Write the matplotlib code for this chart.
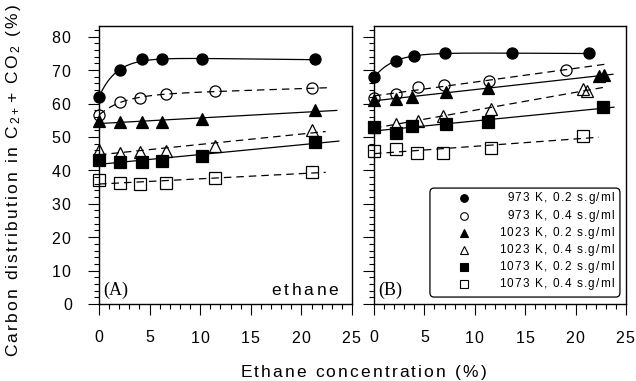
import numpy as np
import matplotlib.pyplot as plt
from matplotlib.patches import FancyBboxPatch
from matplotlib.ticker import MultipleLocator, FuncFormatter

plt.rcParams['font.family'] = ['Liberation Sans', 'DejaVu Sans']
plt.rcParams['mathtext.fontset'] = 'custom'
plt.rcParams['mathtext.rm'] = 'Liberation Sans'
plt.rcParams['mathtext.it'] = 'Liberation Sans:italic'
plt.rcParams['mathtext.default'] = 'regular'

LABELS = ['973 K, 0.2 s.g/ml', '973 K, 0.4 s.g/ml',
          '1023 K, 0.2 s.g/ml', '1023 K, 0.4 s.g/ml',
          '1073 K, 0.2 s.g/ml', '1073 K, 0.4 s.g/ml']

# (A) ethane concentration (%) / carbon distribution (%)
a_973_02_x = [0, 2.1, 4.2, 6.2, 10.2, 21.3]
a_973_02_y = [62.0, 70.0, 73.2, 73.2, 73.2, 73.2]
a_973_04_x = [0, 2.1, 4.1, 6.6, 11.5, 21.0]
a_973_04_y = [56.5, 60.5, 61.7, 62.7, 63.8, 64.5]
a_1023_02_x = [0, 2.1, 4.2, 6.2, 10.2, 21.3]
a_1023_02_y = [54.8, 54.5, 54.4, 54.4, 55.3, 58.0]
a_1023_04_x = [0, 2.1, 4.1, 6.6, 11.5, 21.0]
a_1023_04_y = [46.1, 45.1, 45.6, 45.8, 47.4, 52.0]
a_1073_02_x = [0, 2.1, 4.2, 6.2, 10.2, 21.3]
a_1073_02_y = [43.1, 42.4, 42.4, 42.8, 44.4, 48.6]
a_1073_04_x = [0, 2.1, 4.1, 6.6, 11.5, 21.0]
a_1073_04_y = [37.1, 36.1, 35.8, 36.3, 37.6, 39.6]

# (B)
b_973_02_x = [0, 2.2, 4.0, 7.0, 13.7, 21.3]
b_973_02_y = [67.8, 72.8, 74.3, 75.0, 75.0, 75.0]
b_973_04_x = [0, 2.2, 4.4, 6.9, 11.4, 19.0]
b_973_04_y = [61.8, 62.8, 65.0, 65.5, 66.7, 70.0]
b_1023_02_x = [0, 2.2, 3.8, 7.1, 11.3, 22.3, 22.8]
b_1023_02_y = [61.0, 61.3, 62.0, 63.3, 64.7, 68.2, 68.5]
b_1023_04_x = [0, 2.2, 4.4, 6.8, 11.6, 20.7, 21.1]
b_1023_04_y = [53.0, 53.8, 54.8, 56.3, 58.3, 64.2, 63.8]
b_1073_02_x = [0, 2.2, 3.8, 7.1, 11.3, 22.7]
b_1073_02_y = [53.0, 51.2, 53.3, 53.8, 54.5, 59.0]
b_1073_04_x = [0, 2.2, 4.3, 6.8, 11.6, 20.7]
b_1073_04_y = [45.8, 46.4, 45.3, 45.3, 46.8, 50.4]

panel_a = [(a_973_02_x, a_973_02_y), (a_973_04_x, a_973_04_y),
           (a_1023_02_x, a_1023_02_y), (a_1023_04_x, a_1023_04_y),
           (a_1073_02_x, a_1073_02_y), (a_1073_04_x, a_1073_04_y)]
panel_b = [(b_973_02_x, b_973_02_y), (b_973_04_x, b_973_04_y),
           (b_1023_02_x, b_1023_02_y), (b_1023_04_x, b_1023_04_y),
           (b_1073_02_x, b_1073_02_y), (b_1073_04_x, b_1073_04_y)]

# fit type and how far each fitted line is drawn
fit_a = [('sat', 21.3), ('sat', 23.0), ('lin', 23.5), ('lin', 22.4), ('lin', 23.7), ('lin', 22.4)]
fit_b = [('sat', 21.3), ('lin', 23.2), ('lin', 23.7), ('lin', 23.2), ('lin', 23.8), ('lin', 22.3)]

MARKERS = ['o', 'o', '^', '^', 's', 's']
FILLED = [True, False, True, False, True, False]
MSIZE = [8, 8, 8.5, 8.5, 8, 8]


def spaced(s, gap=0.15):
    """Loosen letter spacing with mathtext kerns; $...$ parts kept as math."""
    k = r'\hspace{%.2f}' % gap
    parts = s.split('$')
    out = ''
    for i, p in enumerate(parts):
        if i % 2:
            out += '$' + p + k + '$'
        else:
            out += ('$' + k + '$').join(p)
            if i < len(parts) - 1 and p:
                out += '$' + k + '$'
    return out


def fit_curve(x, y, kind, x_end):
    x = np.asarray(x, float)
    y = np.asarray(y, float)
    xs = np.linspace(0, x_end, 300)
    if kind == 'lin':
        p = np.polyfit(x, y, 1)
        return xs, np.polyval(p, xs)
    # saturating: a + b*x + c*exp(-x/tau)
    best = None
    for tau in np.linspace(0.3, 8, 400):
        A = np.column_stack([np.ones_like(x), x, np.exp(-x / tau)])
        coef = np.linalg.lstsq(A, y, rcond=None)[0]
        err = np.sum((A @ coef - y) ** 2)
        if best is None or err < best[0]:
            best = (err, tau, coef)
    _, tau, coef = best
    return xs, coef[0] + coef[1] * xs + coef[2] * np.exp(-xs / tau)


def draw_panel(ax, series, fits, tag):
    for i, ((x, y), (kind, x_end)) in enumerate(zip(series, fits)):
        xs, ys = fit_curve(x, y, kind, x_end)
        ls = '-' if FILLED[i] else (0, (6, 4))
        ax.plot(xs, ys, color='black', lw=0.9, linestyle=ls, zorder=2)
        ax.plot(x, y, linestyle='none', marker=MARKERS[i], ms=MSIZE[i],
                mfc='black' if FILLED[i] else 'none', mec='black', mew=0.9,
                zorder=3, clip_on=False)
    ax.set_xlim(0, 25)
    ax.set_ylim(0, 83.2)
    ax.xaxis.set_major_locator(MultipleLocator(5))
    ax.xaxis.set_minor_locator(MultipleLocator(1))
    ax.yaxis.set_major_locator(MultipleLocator(10))
    ax.yaxis.set_minor_locator(MultipleLocator(2))
    ax.tick_params(which='both', direction='out', top=False, right=False,
                   width=0.8, labelsize=11.5, pad=11)
    ax.tick_params(which='major', length=8)
    ax.tick_params(which='minor', length=3.5)
    ax.xaxis.set_major_formatter(FuncFormatter(lambda v, p: spaced('%d' % v)))
    ax.yaxis.set_major_formatter(FuncFormatter(lambda v, p: spaced('%d' % v)))
    for sp in ax.spines.values():
        sp.set_linewidth(1.0)
    ax.text(0.015, 0.033, tag, transform=ax.transAxes, family='Liberation Serif',
            fontsize=13, va='baseline', ha='left')


fig = plt.figure(figsize=(6.36, 3.81), dpi=100)
ax_a = fig.add_axes([99 / 636, 77 / 381, 253 / 636, 278 / 381])
ax_b = fig.add_axes([374 / 636, 77 / 381, 252 / 636, 278 / 381])

draw_panel(ax_a, panel_a, fit_a, '(A)')
draw_panel(ax_b, panel_b, fit_b, '(B)')
ax_b.tick_params(axis='y', labelleft=False)

ax_a.text(0.953, 0.033, spaced('ethane', 0.2), transform=ax_a.transAxes,
          fontsize=12.5, ha='right', va='baseline')

# legend box inside panel B
box = FancyBboxPatch((0.222, 0.025), 0.754, 0.392,
                     boxstyle='round,pad=0,rounding_size=0.016',
                     transform=ax_b.transAxes, fc='white', ec='black', lw=0.9,
                     zorder=4)
ax_b.add_patch(box)
row_y = [0.381, 0.317, 0.255, 0.194, 0.133, 0.072]
for i, (lab, yy) in enumerate(zip(LABELS, row_y)):
    ax_b.plot(0.357, yy, marker=MARKERS[i], ms=5.5, mec='black', mew=0.8,
              mfc='black' if FILLED[i] else 'none', transform=ax_b.transAxes,
              zorder=5, clip_on=False)
    ax_b.text(0.956, yy, spaced(lab, 0.12), transform=ax_b.transAxes,
              fontsize=8.5, ha='right', va='center', zorder=5)

fig.text(363 / 636, 1 - 377 / 381, spaced('Ethane concentration (%)'),
         fontsize=12.5, ha='center', va='baseline')
fig.text(13.5 / 636, 0.525, spaced('Carbon distribution in C$_{2+}$+ CO$_2$ (%)'),
         fontsize=12.5, rotation=90, ha='center', va='center')

fig.savefig('out.png', dpi=100)
